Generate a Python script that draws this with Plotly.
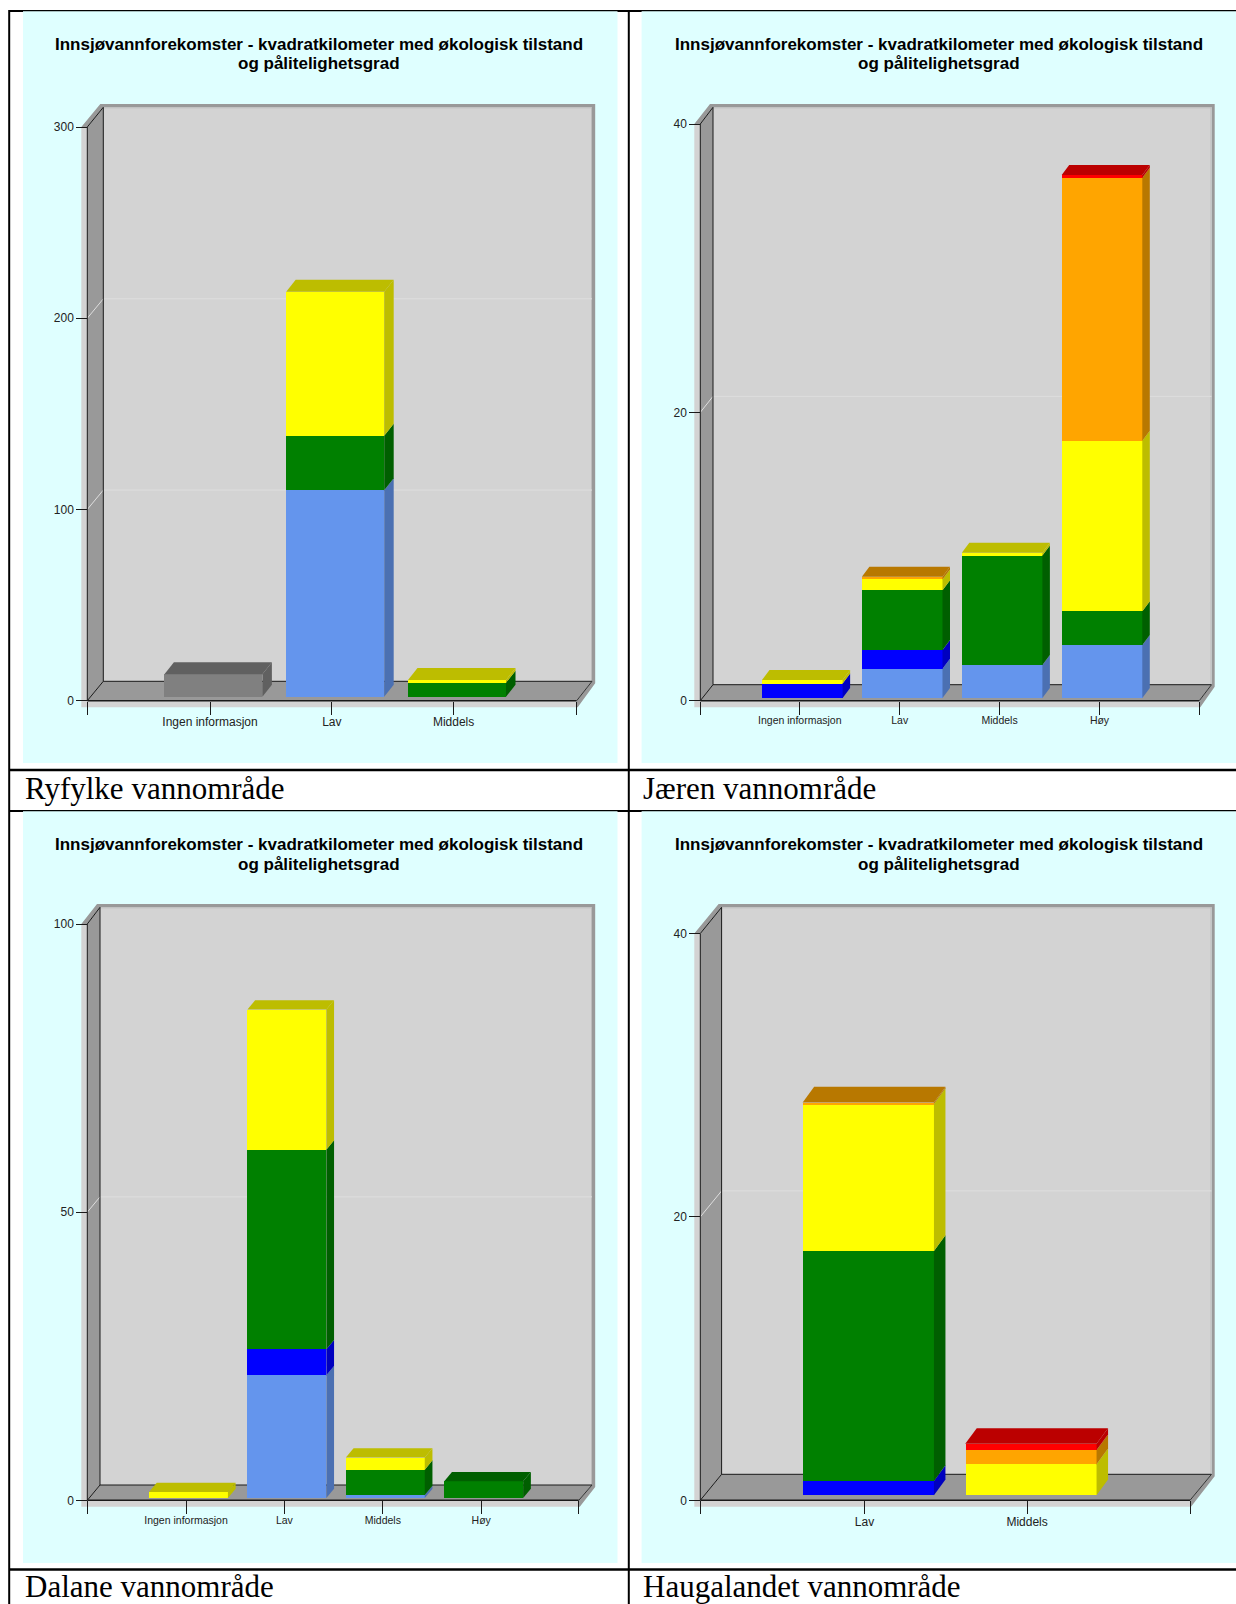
import plotly.graph_objects as go

W, H = 1236, 1604

TITLE_LINES = ["Innsjøvannforekomster - kvadratkilometer med økologisk tilstand", "og pålitelighetsgrad"]

ryfylke_categories = ["Ingen informasjon", "Lav", "Middels"]
ryfylke_ticks = [0, 100, 200, 300]
ryfylke_grey = [11.7, 0, 0]
ryfylke_lightblue = [0, 108, 0]
ryfylke_green = [0, 28.4, 7.3]
ryfylke_yellow = [0, 75.3, 1.4]

jaeren_categories = ["Ingen informasjon", "Lav", "Middels", "Høy"]
jaeren_ticks = [0, 20, 40]
jaeren_lightblue = [0, 2.03, 2.29, 3.68]
jaeren_blue = [1.0, 1.3, 0, 0]
jaeren_green = [0, 4.15, 7.59, 2.34]
jaeren_yellow = [0.25, 0.74, 0.19, 11.83]
jaeren_orange = [0, 0.19, 0, 18.24]
jaeren_red = [0, 0, 0, 0.18]

dalane_categories = ["Ingen informasjon", "Lav", "Middels", "Høy"]
dalane_ticks = [0, 50, 100]
dalane_lightblue = [0, 21.3, 0.52, 0]
dalane_blue = [0, 4.5, 0, 0]
dalane_green = [0, 34.65, 4.4, 2.9]
dalane_yellow = [1.04, 24.3, 2.1, 0]

haugalandet_categories = ["Lav", "Middels"]
haugalandet_ticks = [0, 20, 40]
haugalandet_blue = [1.01, 0]
haugalandet_green = [16.23, 0]
haugalandet_yellow = [10.37, 2.19]
haugalandet_orange = [0.11, 1.0]
haugalandet_red = [0, 0.44]

captions = ["Ryfylke vannområde", "Jæren vannområde", "Dalane vannområde", "Haugalandet vannområde"]

COL = {"grey": ("#808080", "#606060"), "lightblue": ("#6495ED", "#4B70B2"), "blue": ("#0000FF", "#0000BF"),
       "green": ("#008000", "#005F00"), "yellow": ("#FFFF00", "#BDBD00"), "orange": ("#FFA500", "#B87800"),
       "red": ("#FF0000", "#BB0000")}

panels = [
    dict(cats=ryfylke_categories, ticks=ryfylke_ticks, font=12,
         series=[("grey", ryfylke_grey), ("lightblue", ryfylke_lightblue), ("green", ryfylke_green), ("yellow", ryfylke_yellow)],
         cyan=(23, 617.5, 11, 763), t0=210, dt=121.8, fl=87.3, fr=576.7, ft=127, fb=700.7,
         bl=103.3, br=592, bt=107.3, bb=681.3, bw=98, shift=3.4, lift=4, dx=9.5, dy=12,
         title_x=319, title_y=(45, 64), cap_x=23.5, cap_y=789),
    dict(cats=jaeren_categories, ticks=jaeren_ticks, font=10.5,
         series=[("lightblue", jaeren_lightblue), ("blue", jaeren_blue), ("green", jaeren_green),
                 ("yellow", jaeren_yellow), ("orange", jaeren_orange), ("red", jaeren_red)],
         cyan=(641.6, 1236, 11, 763), t0=799.8, dt=99.9, fl=700.3, fr=1199.3, ft=124, fb=700.7,
         bl=713, br=1211.5, bt=107.3, bb=684.7, bw=80.6, shift=2.5, lift=2.7, dx=7.5, dy=10,
         title_x=938.5, title_y=(45, 64), cap_x=642, cap_y=789),
    dict(cats=dalane_categories, ticks=dalane_ticks, font=10.5,
         series=[("lightblue", dalane_lightblue), ("blue", dalane_blue), ("green", dalane_green), ("yellow", dalane_yellow)],
         cyan=(23, 617.5, 811, 1563), t0=186, dt=98.4, fl=87.3, fr=578.8, ft=924, fb=1500.3,
         bl=100, br=592, bt=907.3, bb=1485, bw=78.9, shift=2.5, lift=2.3, dx=7.7, dy=9.3,
         title_x=319, title_y=(844.5, 864), cap_x=23.5, cap_y=1586),
    dict(cats=haugalandet_categories, ticks=haugalandet_ticks, font=12,
         series=[("blue", haugalandet_blue), ("green", haugalandet_green), ("yellow", haugalandet_yellow),
                 ("orange", haugalandet_orange), ("red", haugalandet_red)],
         cyan=(641.6, 1236, 811, 1563), t0=864.5, dt=162.6, fl=700.3, fr=1190, ft=933.5, fb=1500.3,
         bl=721.6, br=1211.5, bt=907.3, bb=1474.3, bw=131.3, shift=3.8, lift=5, dx=11.5, dy=15.7,
         title_x=938.5, title_y=(844.5, 864), cap_x=642, cap_y=1586),
]

fig = go.Figure()
shapes, annotations, layout_axes = [], [], {}

WALL = "#999999"
BACK = "#D3D3D3"
GRID = "#DEDEDE"
LINE = "#1A1A1A"

for n, p in enumerate(panels, start=1):
    sfx = "" if n == 1 else str(n)
    xref, yref = f"x{sfx}", f"y{sfx}"
    L, R, T, B = p["cyan"]
    ymax = p["ticks"][-1]
    k = (p["fb"] - p["ft"]) / ymax

    def X(px, p=p):
        return (px - p["t0"]) / p["dt"]

    def Y(py, p=p, k=k):
        return (p["fb"] - py) / k

    fl, fr, ft, fb = p["fl"], p["fr"], p["ft"], p["fb"]
    bl, br, bt, bb = p["bl"], p["br"], p["bt"], p["bb"]
    sl, sr, st, sb = fl - 6, br + 3.2, bt - 3.2, fb + 6.5

    def poly(points, color):
        d = "M " + " L ".join(f"{X(a):.5f},{Y(b):.5f}" for a, b in points) + " Z"
        shapes.append(dict(type="path", path=d, xref=xref, yref=yref, layer="below",
                           fillcolor=color, line=dict(width=0)))

    def seg(a, b, color=LINE, width=1):
        shapes.append(dict(type="line", x0=X(a[0]), y0=Y(a[1]), x1=X(b[0]), y1=Y(b[1]),
                           xref=xref, yref=yref, layer="below", line=dict(color=color, width=width)))

    poly([(sl, ft), (fr, ft), (fr, sb), (sl, sb)], BACK)
    poly([(sl, ft), (bl - 3, st), (sr, st), (sr, bb + 2), (fr + 1, sb), (fr, sb), (fr, fb),
          (br, bb), (br, bt), (bl, bt), (fl, ft)], WALL)
    poly([(bl, bt), (br, bt), (br, bb), (bl, bb)], BACK)
    poly([(fl, ft), (bl, bt), (bl, bb), (fl, fb)], WALL)
    poly([(fl, fb), (bl, bb), (br, bb), (fr, fb)], WALL)
    seg((bl, bt + 0.5), (br, bt + 0.5), "#BBBBBB")
    seg((br - 0.5, bt), (br - 0.5, bb), "#BBBBBB")

    depth_y = fb - bb
    for v in p["ticks"][1:-1]:
        py = fb - v * k
        seg((fl, py), (bl, py - depth_y), GRID)
        seg((bl, py - depth_y), (br, py - depth_y), GRID)

    seg((fl, ft), (fl, fb))
    seg((bl, bt), (bl, bb))
    seg((fl, ft), (bl, bt))
    seg((fl, fb), (bl, bb))
    seg((bl, bb), (br, bb))
    seg((fl, fb), (fr, fb), LINE, 1.4)
    seg((fr, fb), (br, bb), "#333333")

    # bars: every front face is a real bar on the panel's axes; depth faces follow the same values
    lift = p["lift"] / k
    shift = p["shift"] / p["dt"]
    width = p["bw"] / p["dt"]
    dx = p["dx"] / p["dt"]
    dy = p["dy"] / k
    xs = [i + shift for i in range(len(p["cats"]))]
    cum = [lift] * len(xs)
    top_col = [None] * len(xs)
    for name, vals in p["series"]:
        front, depth = COL[name]
        fig.add_trace(go.Bar(x=xs, y=vals, base=list(cum), width=width, xaxis=xref, yaxis=yref,
                             marker=dict(color=front, line=dict(width=0)), name=name,
                             showlegend=False, hoverinfo="skip"))
        for i, v in enumerate(vals):
            if v <= 0:
                continue
            xr = xs[i] + width / 2
            b, t = cum[i], cum[i] + v
            fig.add_trace(go.Scatter(x=[xr, xr + dx, xr + dx, xr, xr], y=[b, b + dy, t + dy, t, b],
                                     mode="lines", line=dict(width=0), fill="toself", fillcolor=depth,
                                     xaxis=xref, yaxis=yref, showlegend=False, hoverinfo="skip"))
            cum[i] = t
            top_col[i] = depth
    for i, c in enumerate(top_col):
        if c is None:
            continue
        xa, xb, t = xs[i] - width / 2, xs[i] + width / 2, cum[i]
        fig.add_trace(go.Scatter(x=[xa, xb, xb + dx, xa + dx, xa], y=[t, t, t + dy, t + dy, t],
                                 mode="lines", line=dict(width=0), fill="toself", fillcolor=c,
                                 xaxis=xref, yaxis=yref, showlegend=False, hoverinfo="skip"))

    tick_font = dict(family="Liberation Sans, Arial, sans-serif", size=p["font"], color="#222222")
    layout_axes[f"xaxis{sfx}"] = dict(
        domain=[L / W, R / W], range=[X(L), X(R)], anchor="free", position=1 - fb / H,
        tickmode="array", tickvals=[X(fl)] + list(range(len(p["cats"]))) + [X(fr)],
        ticktext=[""] + p["cats"] + [""], tickangle=0, ticks="outside", ticklen=13, tickwidth=1, tickcolor=LINE,
        ticklabelstandoff=-3,
        tickfont=tick_font, showgrid=False, zeroline=False, showline=False, fixedrange=True)
    layout_axes[f"yaxis{sfx}"] = dict(
        domain=[1 - B / H, 1 - T / H], range=[Y(B), Y(T)], anchor="free", position=fl / W,
        tickmode="array", tickvals=p["ticks"], ticktext=[str(v) for v in p["ticks"]],
        ticks="outside", ticklen=11, tickwidth=1, tickcolor=LINE,
        tickfont=dict(family="Liberation Sans, Arial, sans-serif", size=12, color="#222222"),
        showgrid=False, zeroline=False, showline=False, fixedrange=True)

    for line, ty in zip(TITLE_LINES, p["title_y"]):
        annotations.append(dict(text=line, xref="paper", yref="paper", x=p["title_x"] / W, y=1 - ty / H,
                                xanchor="center", yanchor="middle", showarrow=False, align="center",
                                font=dict(family="Liberation Sans, Arial, sans-serif", size=17, color="#000000", weight="bold")))
    annotations.append(dict(text=captions[n - 1], xref="paper", yref="paper", x=p["cap_x"] / W, y=1 - p["cap_y"] / H,
                            xanchor="left", yanchor="middle", showarrow=False, xshift=-1,
                            font=dict(family="Liberation Serif, serif", size=31, color="#000000")))


def rule(x0, y0, x1, y1, width):
    shapes.append(dict(type="line", xref="paper", yref="paper", x0=x0 / W, x1=x1 / W,
                       y0=1 - y0 / H, y1=1 - y1 / H, layer="above",
                       line=dict(color="#000000", width=width)))


rule(9.2, 10, 9.2, H, 2)
rule(628.8, 10, 628.8, H, 2)
rule(9, 10.7, W, 10.7, 1.2)
rule(9, 11, 23, 11, 2)
rule(617.5, 11, 641.6, 11, 2)
rule(9, 770, W, 770, 2.4)
rule(9, 810.7, W, 810.7, 1.2)
rule(9, 811, 23, 811, 2)
rule(617.5, 811, 641.6, 811, 2)
rule(9, 1569.5, W, 1569.5, 2.4)

fig.update_layout(width=W, height=H, margin=dict(l=0, r=0, t=0, b=0, pad=0), autosize=False,
                  paper_bgcolor="#FFFFFF", plot_bgcolor="#DFFFFF", barmode="overlay", bargap=0,
                  shapes=shapes, annotations=annotations, showlegend=False, **layout_axes)

fig.write_html("out.html", config=dict(displayModeBar=False),
               post_script="document.body.style.margin='0';document.documentElement.style.overflow='hidden';")
